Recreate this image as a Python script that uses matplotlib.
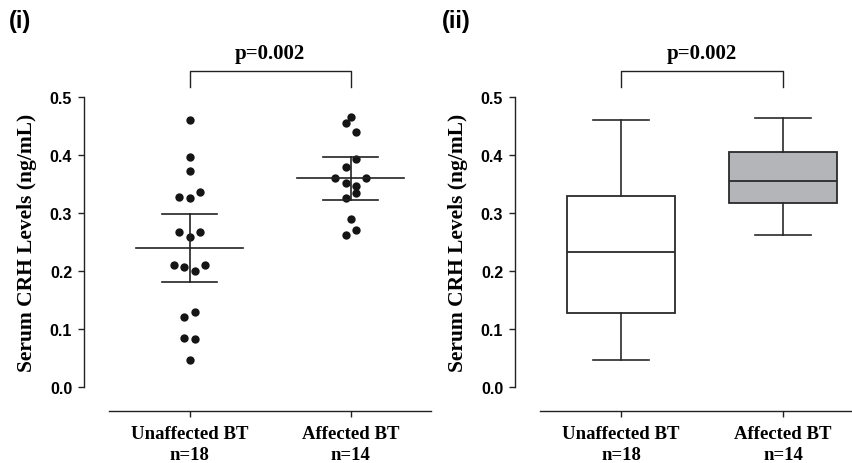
import matplotlib
matplotlib.use("Agg")
import matplotlib.pyplot as plt
import numpy as np

# Groups
categories = ["Unaffected BT\nn=18", "Affected BT\nn=14"]

# Individual serum CRH levels (ng/mL)
unaffected = [0.460, 0.397, 0.372, 0.327, 0.326, 0.336, 0.268, 0.268, 0.258,
              0.210, 0.207, 0.200, 0.210, 0.121, 0.129, 0.085, 0.082, 0.046]
unaffected_jitter = [0.0, 0.0, 0.0, -0.065, 0.0, 0.065, -0.065, 0.065, 0.0,
                     -0.098, -0.033, 0.033, 0.098, -0.033, 0.033, -0.033, 0.033, 0.0]
affected = [0.465, 0.456, 0.440, 0.393, 0.380, 0.361, 0.360, 0.351, 0.346,
            0.335, 0.326, 0.289, 0.270, 0.262]
affected_jitter = [0.0, -0.031, 0.033, 0.033, -0.031, -0.098, 0.098, -0.031,
                   0.033, 0.033, -0.031, 0.0, 0.033, -0.031]

# Mean with 95% CI
means = [0.239, 0.360]
ci_low = [0.181, 0.323]
ci_high = [0.298, 0.397]

# Box plot statistics: whisker low, Q1, median, Q3, whisker high
box_stats = [
    dict(whislo=0.046, q1=0.127, med=0.2335, q3=0.3295, whishi=0.460),
    dict(whislo=0.262, q1=0.317, med=0.355, q3=0.4045, whishi=0.463),
]
box_colors = ["white", "#b4b5b9"]

p_text = "p=0.002"
yticks = [0.0, 0.1, 0.2, 0.3, 0.4, 0.5]

W, H = 852, 464
fig = plt.figure(figsize=(W / 100, H / 100), dpi=100)

serif = ["Liberation Serif", "DejaVu Serif"]
sans = ["Liberation Sans", "DejaVu Sans"]
dark = "#222222"


def make_axes(x0, x1):
    # data area: x from x0 to x1 px, y from 0.0 (388 px) to 0.5 (98 px)
    y_top, y_bot = 98, 388
    ax = fig.add_axes([x0 / W, 1 - y_bot / H, (x1 - x0) / W, (y_bot - y_top) / H])
    ax.set_xlim(-0.5, 1.5)
    ax.set_ylim(0, 0.5)
    for s in ("top", "right"):
        ax.spines[s].set_visible(False)
    ax.spines["left"].set_position(("outward", 18.2))
    ax.spines["bottom"].set_position(("outward", 17.3))
    ax.spines["left"].set_bounds(0, 0.5)
    for s in ("left", "bottom"):
        ax.spines[s].set_linewidth(1.0)
        ax.spines[s].set_color(dark)
    ax.set_yticks(yticks)
    ax.set_yticklabels([f"{v:.1f}" for v in yticks], fontfamily=sans,
                       fontweight="bold", fontsize=11.5)
    ax.set_xticks([0, 1])
    ax.set_xticklabels(categories, fontfamily=serif, fontweight="bold",
                       fontsize=13.5, linespacing=1.3)
    ax.tick_params(axis="y", direction="out", length=4.3, width=1.0, color=dark, pad=4)
    ax.tick_params(axis="x", direction="out", length=4, width=1.0, color=dark, pad=6)
    ax.set_ylabel("Serum CRH Levels (ng/mL)", fontfamily=serif, fontweight="bold",
                  fontsize=15.5, labelpad=9)
    ax.patch.set_visible(False)
    # significance bracket
    ax.plot([0, 0, 1, 1], [0.517, 0.545, 0.545, 0.517], color=dark, lw=1.0,
            clip_on=False)
    ax.text(0.5, 0.559, p_text, ha="center", va="bottom", fontfamily=serif,
            fontweight="bold", fontsize=15, transform=ax.transData)
    return ax


# (i) scatter with mean and 95% CI
ax1 = make_axes(109, 431)
for i, (vals, jit) in enumerate([(unaffected, unaffected_jitter),
                                 (affected, affected_jitter)]):
    ax1.plot(np.array(jit) + i, vals, "o", color="#151515", ms=6.0, mew=0,
             clip_on=False, zorder=3)
    ax1.plot([i - 0.335, i + 0.335], [means[i]] * 2, color=dark, lw=1.2, zorder=4)
    ax1.plot([i, i], [ci_low[i], ci_high[i]], color=dark, lw=1.2, zorder=4)
    for v in (ci_low[i], ci_high[i]):
        ax1.plot([i - 0.17, i + 0.17], [v, v], color=dark, lw=1.2, zorder=4)

# (ii) box plot
ax2 = make_axes(540, 864)
bp = ax2.bxp(box_stats, positions=[0, 1], widths=0.67, showfliers=False,
             patch_artist=True,
             boxprops=dict(edgecolor="#2a2a2a", linewidth=1.3),
             medianprops=dict(color="#2a2a2a", linewidth=1.3),
             whiskerprops=dict(color="#2a2a2a", linewidth=1.2),
             capprops=dict(color="#2a2a2a", linewidth=1.2),
             capwidths=0.34, manage_ticks=False)
for patch, c in zip(bp["boxes"], box_colors):
    patch.set_facecolor(c)
ax2.set_xticks([0, 1])
ax2.set_xticklabels(categories, fontfamily=serif, fontweight="bold",
                    fontsize=13.5, linespacing=1.3)

fig.text(9 / W, 1 - 21.5 / H, "(i)", fontfamily=sans, fontweight="bold",
         fontsize=17, va="center", ha="left")
fig.text(442 / W, 1 - 21.5 / H, "(ii)", fontfamily=sans, fontweight="bold",
         fontsize=17, va="center", ha="left")

fig.savefig("out.png", dpi=100)
